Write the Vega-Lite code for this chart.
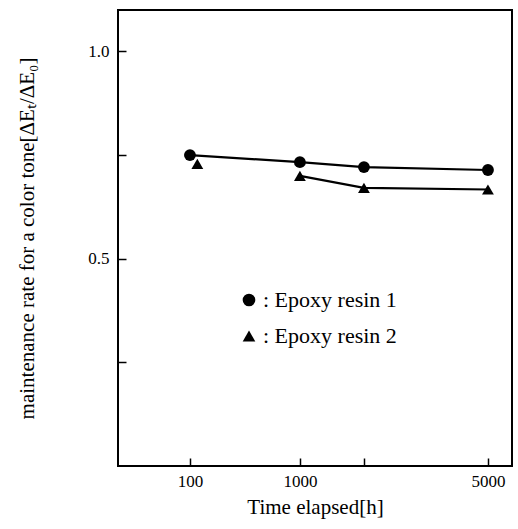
{
  "$schema": "https://vega.github.io/schema/vega-lite/v6.json",
  "width": 394,
  "height": 456,
  "autosize": "none",
  "padding": {"left": 118, "top": 10, "right": 6, "bottom": 63},
  "background": "white",
  "config": {
    "view": {"stroke": "black", "strokeWidth": 2},
    "font": "Liberation Serif"
  },
  "data": {
    "values": [
      {"time": 100, "rate": 0.750, "series": "Epoxy resin 1"},
      {"time": 1000, "rate": 0.733, "series": "Epoxy resin 1"},
      {"time": 2000, "rate": 0.721, "series": "Epoxy resin 1"},
      {"time": 5000, "rate": 0.714, "series": "Epoxy resin 1"},
      {"time": 130, "rate": 0.729, "series": "Epoxy resin 2"},
      {"time": 1000, "rate": 0.700, "series": "Epoxy resin 2"},
      {"time": 2000, "rate": 0.671, "series": "Epoxy resin 2"},
      {"time": 5000, "rate": 0.667, "series": "Epoxy resin 2"}
    ]
  },
  "resolve": {"axis": {"x": "independent", "y": "independent"}},
  "layer": [
    {
      "transform": [{"filter": "datum.series == 'Epoxy resin 1' || datum.time >= 1000"}],
      "mark": {"type": "line", "color": "black", "strokeWidth": 2.2},
      "encoding": {
        "x": {
          "field": "time", "type": "quantitative",
          "scale": {"type": "pow", "exponent": 0.47, "domain": [-6.5, 5750], "nice": false, "zero": false},
          "axis": {
            "orient": "bottom",
            "title": "Time elapsed[h]",
            "values": [100, 1000, 5000],
            "format": "d",
            "domain": false, "grid": false, "ticks": false,
            "labelPadding": 7, "labelFontSize": 17, "labelColor": "black",
            "titleFontSize": 21, "titleFontWeight": "normal", "titleColor": "black", "titlePadding": 7
          }
        },
        "y": {
          "field": "rate", "type": "quantitative",
          "scale": {"domain": [0, 1.1], "nice": false, "zero": false},
          "axis": {
            "orient": "left",
            "title": "maintenance rate for a color tone[ΔEₜ/ΔE₀]",
            "values": [0.5, 1.0],
            "format": ".1f",
            "domain": false, "grid": false, "ticks": false,
            "labelPadding": 9, "labelFontSize": 17, "labelColor": "black",
            "titleFontSize": 21, "titleFontWeight": "normal", "titleColor": "black", "titlePadding": 50
          }
        },
        "detail": {"field": "series"}
      }
    },
    {
      "mark": {"type": "point", "filled": true, "opacity": 1, "color": "black"},
      "encoding": {
        "x": {
          "field": "time", "type": "quantitative",
          "axis": {
            "orient": "bottom",
            "title": null, "labels": false,
            "values": [100, 1000, 2000, 5000],
            "domain": false, "grid": false,
            "tickSize": {"expr": "-8"}, "tickWidth": 1.5, "tickColor": "black"
          }
        },
        "y": {
          "field": "rate", "type": "quantitative",
          "axis": {
            "orient": "left",
            "title": null, "labels": false,
            "values": [0.25, 0.5, 0.75, 1.0],
            "domain": false, "grid": false,
            "tickSize": {"expr": "-8"}, "tickWidth": 1.5, "tickColor": "black"
          }
        },
        "shape": {
          "field": "series", "type": "nominal",
          "scale": {"domain": ["Epoxy resin 1", "Epoxy resin 2"], "range": ["circle", "triangle-up"]},
          "legend": {
            "title": null,
            "orient": "none", "legendX": 120, "legendY": 279,
            "labelExpr": "': ' + datum.label",
            "labelFontSize": 22, "labelColor": "black",
            "symbolSize": 160, "symbolFillColor": "black", "symbolStrokeColor": "black",
            "rowPadding": 14, "labelOffset": 3
          }
        },
        "size": {"value": 140}
      }
    }
  ]
}
